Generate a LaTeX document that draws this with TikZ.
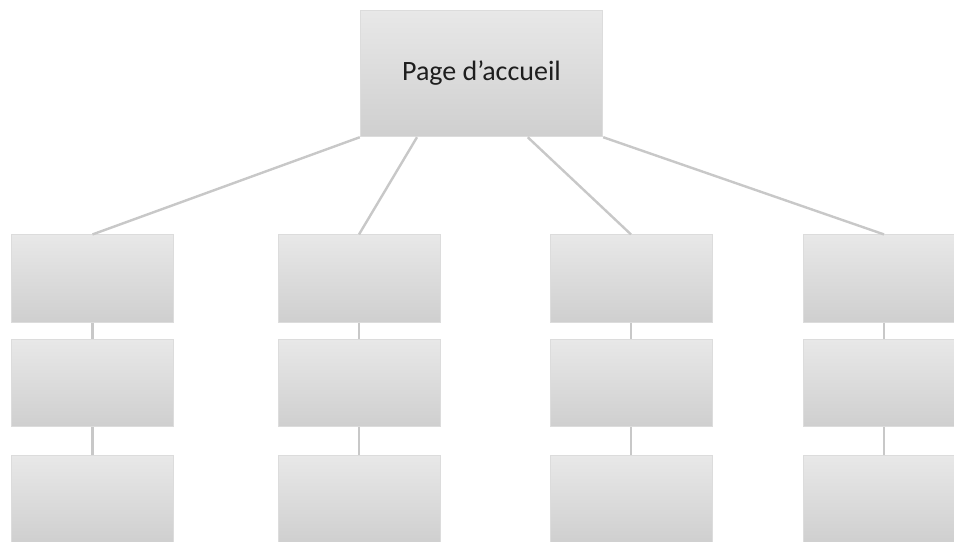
\documentclass[tikz,border=0pt]{standalone}
\usepackage{fontspec}
\setmainfont{Carlito}
\usepackage{tikz}
\usetikzlibrary{calc}
\usepackage{xcolor}
\definecolor{boxtop}{RGB}{232,232,232}
\definecolor{boxbot}{RGB}{207,207,207}
\definecolor{boxbord}{RGB}{220,220,220}
\definecolor{linkgray}{RGB}{200,200,200}
\definecolor{textdark}{RGB}{30,30,30}

\begin{document}
\begin{tikzpicture}[x=0.75pt, y=-0.75pt]

%% ── Frame ────────────────────────────────────────────────────────────────────
\clip (0,0) rectangle (954,542);
\fill[white] (0,0) rectangle (954,542);

\begin{scope}[
  every node/.style={
    draw=boxbord, top color=boxtop, bottom color=boxbot,
    line width=0.6pt, inner sep=0pt,
    minimum width=121.5pt, minimum height=65.5pt
  },
  linkgray, line width=1.8pt
]
%% ── Home page box ────────────────────────────────────────────────────────────
  \node[minimum width=182pt, minimum height=95pt,
        font=\fontsize{21}{25}\selectfont, text=textdark]
    (accueil) at (481.5,73.5) {\raisebox{-3.5pt}{Page d’accueil}};

%% ── Column boxes ─────────────────────────────────────────────────────────────
  \node (c1a) at (92.5,278.5) {};
  \node (c1b) at (92.5,383)   {};
  \node (c1c) at (92.5,499.5) {};

  \node (c2a) at (359,278.5)  {};
  \node (c2b) at (359,383)    {};
  \node (c2c) at (359,499.5)  {};

  \node (c3a) at (631,278.5)  {};
  \node (c3b) at (631,383)    {};
  \node (c3c) at (631,499.5)  {};

  \node (c4a) at (884,278.5)  {};
  \node (c4b) at (884,383)    {};
  \node (c4c) at (884,499.5)  {};

%% ── Links ────────────────────────────────────────────────────────────────────
  \draw (accueil.south west) -- (c1a.north);
  \draw ($(accueil.south west)!0.235!(accueil.south east)$) -- (c2a.north);
  \draw ($(accueil.south west)!0.69!(accueil.south east)$) -- (c3a.north);
  \draw (accueil.south east) -- (c4a.north);

  \draw (c1a) -- (c1b);  \draw (c1b) -- (c1c);
  \draw (c2a) -- (c2b);  \draw (c2b) -- (c2c);
  \draw (c3a) -- (c3b);  \draw (c3b) -- (c3c);
  \draw (c4a) -- (c4b);  \draw (c4b) -- (c4c);
\end{scope}

\end{tikzpicture}
\end{document}
